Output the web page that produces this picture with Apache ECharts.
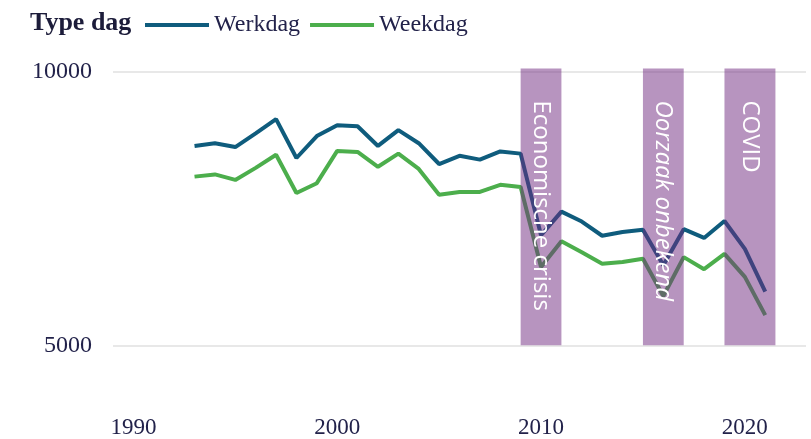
<!DOCTYPE html>
<html>
<head>
<meta charset="utf-8">
<script src="https://cdn.jsdelivr.net/npm/echarts@6/dist/echarts.min.js"></script>
<style>
  html, body { margin: 0; padding: 0; background: #ffffff; }
  #chart { width: 811px; height: 439px; }
</style>
</head>
<body>
<div id="chart"></div>
<script>
// Daily counts per year, split by type of day
const years = [1993, 1994, 1995, 1996, 1997, 1998, 1999, 2000, 2001, 2002,
               2003, 2004, 2005, 2006, 2007, 2008, 2009, 2010, 2011, 2012,
               2013, 2014, 2015, 2016, 2017, 2018, 2019, 2020, 2021];
const werkdag = [8640, 8690, 8620, 8870, 9130, 8420, 8820, 9020, 9000, 8640,
                 8930, 8690, 8310, 8460, 8390, 8540, 8500, 7010, 7440, 7260,
                 7000, 7070, 7110, 6460, 7120, 6960, 7270, 6760, 5980];
const weekdag = [8080, 8120, 8020, 8240, 8480, 7780, 7960, 8550, 8530, 8260,
                 8500, 8220, 7750, 7800, 7800, 7930, 7890, 6430, 6900, 6700,
                 6490, 6520, 6580, 5900, 6610, 6390, 6670, 6250, 5550];

const xTicks = [1990, 2000, 2010, 2020];
const yTicks = [5000, 10000];

// Highlighted periods
const periodNames = ['Economische crisis', 'Oorzaak onbekend', 'COVID'];
const periodStart = [2009, 2015, 2019];
const periodEnd   = [2011, 2017, 2021.5];
const italicPeriods = ['Oorzaak onbekend'];

const pairs = vals => years.map((y, i) => [y, vals[i]]);

const serif = '"Liberation Serif", "DejaVu Serif", serif';
const ink = '#22224a';

const chart = echarts.init(document.getElementById('chart'), null, { renderer: 'canvas' });

chart.setOption({
  animation: false,
  backgroundColor: '#ffffff',
  title: {
    text: 'Type dag',
    left: 25,
    top: 5,
    textStyle: { fontFamily: serif, fontWeight: 'bold', fontSize: 26, color: '#1c1c3a' }
  },
  legend: {
    data: ['Werkdag', 'Weekdag'],
    left: 140,
    top: 8,
    itemWidth: 64,
    itemHeight: 4,
    itemGap: 10,
    icon: 'rect',
    textStyle: { fontFamily: serif, fontSize: 24, color: ink }
  },
  grid: { left: 113, right: 5, top: 66, bottom: 26, containLabel: false },
  xAxis: {
    type: 'value',
    min: 1989,
    max: 2023,
    axisLine: { show: false },
    axisTick: { show: false, customValues: xTicks },
    splitLine: { show: false },
    axisLabel: {
      customValues: xTicks,
      formatter: v => String(v),
      margin: 5,
      fontFamily: serif,
      fontSize: 23,
      color: ink
    }
  },
  yAxis: {
    type: 'value',
    min: 3800,
    max: 10100,
    axisLine: { show: false },
    axisTick: { show: false, customValues: yTicks },
    splitLine: { show: true, lineStyle: { color: '#e8e8e8', width: 2 } },
    axisLabel: {
      customValues: yTicks,
      formatter: v => String(v),
      margin: 21,
      fontFamily: serif,
      fontSize: 24,
      color: ink
    }
  },
  series: [
    {
      name: 'Werkdag',
      type: 'line',
      data: pairs(werkdag),
      symbol: 'none',
      itemStyle: { color: '#0f5c7d' },
      lineStyle: { color: '#0f5c7d', width: 4 },
      z: 2
    },
    {
      name: 'Weekdag',
      type: 'line',
      data: pairs(weekdag),
      symbol: 'none',
      itemStyle: { color: '#4cae4c' },
      lineStyle: { color: '#4cae4c', width: 4 },
      z: 2
    },
    {
      name: 'Perioden',
      type: 'line',
      data: [],
      z: 5,
      markArea: {
        silent: true,
        z: 10,
        itemStyle: { color: 'rgba(111, 41, 127, 0.5)' },
        data: periodNames.map((name, i) => [
          {
            name: name,
            xAxis: periodStart[i],
            yAxis: 5000,
            label: {
              show: true,
              position: 'insideTop',
              distance: 32,
              rotate: -90,
              align: 'left',
              verticalAlign: 'middle',
              color: '#ffffff',
              fontFamily: '"Open Sans", "Noto Sans", sans-serif',
              fontSize: 24,
              fontStyle: italicPeriods.includes(name) ? 'italic' : 'normal'
            }
          },
          { xAxis: periodEnd[i], yAxis: 10055 }
        ])
      }
    }
  ]
});
</script>
</body>
</html>
